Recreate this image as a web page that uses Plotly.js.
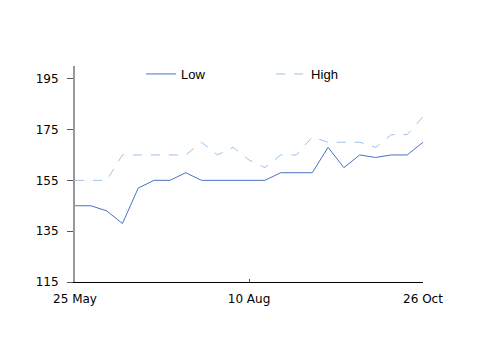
<!DOCTYPE html>
<html><head><meta charset="utf-8">
<script src="https://cdn.plot.ly/plotly-3.0.1.min.js"></script>
<style>html,body{margin:0;padding:0;background:#fff}#chart{width:500px;height:354px}</style>
</head><body><div id="chart"></div>
<script>
const dates = ["2009-05-25","2009-06-01","2009-06-08","2009-06-15","2009-06-22","2009-06-29","2009-07-06","2009-07-13","2009-07-20","2009-07-27","2009-08-03","2009-08-10","2009-08-17","2009-08-24","2009-08-31","2009-09-07","2009-09-14","2009-09-21","2009-09-28","2009-10-05","2009-10-12","2009-10-19","2009-10-26"];
const low  = [145,145,143,138,152,155,155,158,155,155,155,155,155,158,158,158,168,160,165,164,165,165,170];
const high = [155,155,155,165,165,165,165,165,170,165,168,163,160,165,165,172,170,170,170,168,173,173,180];
const tickVals = ["2009-05-25","2009-08-10","2009-10-26"];
const tickText = ["25 May","10 Aug","26 Oct"];
const yTicks = [115,135,155,175,195];

const traces = [
  {x: dates, y: low, name: "Low", type: "scatter", mode: "lines",
   line: {color: "#4a74c2", width: 1}},
  {x: dates, y: high, name: "High", type: "scatter", mode: "lines",
   line: {color: "#9cc2ea", width: 1, dash: "dash"}}
];
const layout = {
  width: 500, height: 354,
  margin: {l: 75, r: 77, t: 66, b: 72},
  paper_bgcolor: "#fff", plot_bgcolor: "#fff",
  font: {family: "DejaVu Sans", size: 12, color: "#000"},
  showlegend: true,
  legend: {orientation: "h", x: 0.19, y: 0.963, xanchor: "left", yanchor: "middle",
    entrywidth: 85, entrywidthmode: "pixels", bgcolor: "rgba(0,0,0,0)",
    font: {family: "Liberation Sans", size: 13, color: "#000"}, itemwidth: 30},
  xaxis: {type: "date", range: [dates[0], dates[dates.length-1]],
    tickvals: tickVals, ticktext: tickText, ticks: "inside", ticklen: 3,
    tickcolor: "#555", showline: true, linecolor: "#000", linewidth: 1,
    showgrid: false, zeroline: false, ticklabelstandoff: 6},
  yaxis: {range: [115, 200], tickvals: yTicks, ticks: "outside", ticklen: 6,
    tickcolor: "#555", showline: true, linecolor: "#999", linewidth: 2,
    showgrid: false, zeroline: false, ticklabelstandoff: 6}
};
Plotly.newPlot("chart", traces, layout, {displayModeBar: false, staticPlot: true});
</script></body></html>
